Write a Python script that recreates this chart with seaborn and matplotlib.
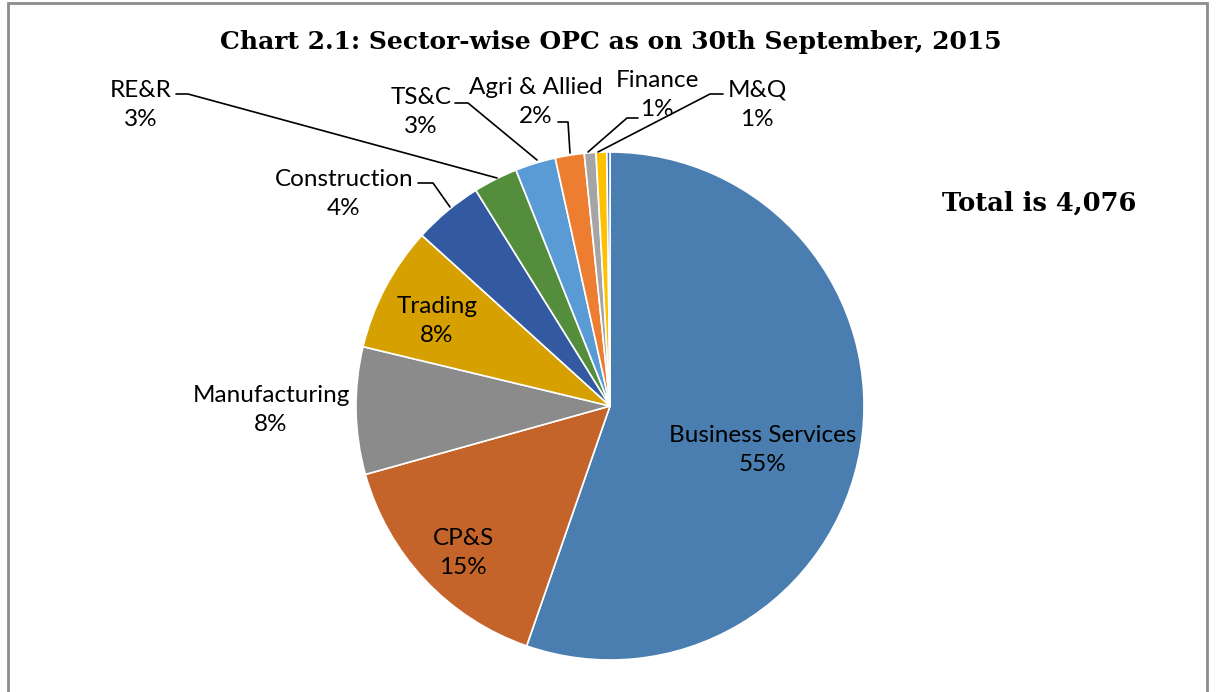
import numpy as np
import pandas as pd
import seaborn as sns
import matplotlib.pyplot as plt
from matplotlib.patches import Rectangle

# Sector-wise OPC counts (total 4,076)
sectors = ['Business Services', 'CP&S', 'Manufacturing', 'Trading', 'Construction',
           'RE&R', 'TS&C', 'Agri & Allied', 'Finance', 'M&Q', 'Others']
counts = [2255, 625, 330, 325, 180, 115, 105, 75, 30, 28, 8]
colors = ['#4A7EB0', '#C4642A', '#8B8B8B', '#D6A100', '#335AA1',
          '#548E3C', '#5B9BD5', '#ED7D31', '#A5A5A5', '#FFC000', '#4472C4']

df = pd.DataFrame({'sector': sectors, 'count': counts})
total = df['count'].sum()
df['pct'] = (df['count'] / total * 100).round().astype(int)

sns.set_theme(style='white')
plt.rcParams['font.family'] = ['Lato', 'DejaVu Sans']

H = 692  # figure height in px, used to flip screen y into data y

fig = plt.figure(figsize=(12.16, 6.92), dpi=100)
ax = fig.add_axes([0, 0, 1, 1])

cx, cy, r = 610, H - 406, 254
explode = [6 / r] + [0] * (len(df) - 1)
wedges, _ = ax.pie(df['count'], colors=sns.color_palette(colors), startangle=90,
                   counterclock=False, center=(cx, cy), radius=r, explode=explode,
                   wedgeprops=dict(edgecolor='white', linewidth=1.2), frame=True)
ax.set_xlim(0, 1216)
ax.set_ylim(0, H)
ax.set_aspect('equal')
ax.axis('off')

# border of the chart area
ax.add_patch(Rectangle((8, -40), 1199, H - 3 + 40, fill=False, edgecolor='#8C8C8C',
                       linewidth=2, clip_on=False))

# label positions (screen px) and leader lines
label_pos = {
    'Business Services': (763, 450),
    'CP&S': (463, 553),
    'Manufacturing': (271, 410),
    'Trading': (437, 321),
    'Construction': (344, 194),
    'RE&R': (141, 105),
    'TS&C': (421, 112),
    'Agri & Allied': (536, 102),
    'Finance': (657, 95),
    'M&Q': (757, 105),
}
leaders = {
    'Construction': [(418, 183), (433, 183), (450, 207)],
    'RE&R': [(176, 94), (188, 94), (497, 178)],
    'TS&C': [(455, 103), (468, 103), (537, 160)],
    'Agri & Allied': [(558, 122), (568, 122), (570, 153)],
    'Finance': [(638, 118), (627, 118), (588, 152)],
    'M&Q': [(723, 94), (710, 94), (598, 152)],
}

for _, row in df.iterrows():
    if row['sector'] not in label_pos:
        continue
    x, y = label_pos[row['sector']]
    ax.text(x, H - y, f"{row['sector']}\n{row['pct']}%", ha='center', va='center',
            fontsize=17.5, color='black', linespacing=1.5)

for pts in leaders.values():
    xs, ys = zip(*pts)
    ax.plot(xs, [H - v for v in ys], color='black', linewidth=1.2)

ax.text(611, H - 42, 'Chart 2.1: Sector-wise OPC as on 30th September, 2015',
        ha='center', va='center', fontsize=18, fontweight='bold', color='black',
        family=['DejaVu Serif'])
ax.text(1039, H - 203, 'Total is 4,076', ha='center', va='center', fontsize=18.5,
        fontweight='bold', color='black', family=['DejaVu Serif'])

plt.savefig('out.png', dpi=100)
plt.close()
